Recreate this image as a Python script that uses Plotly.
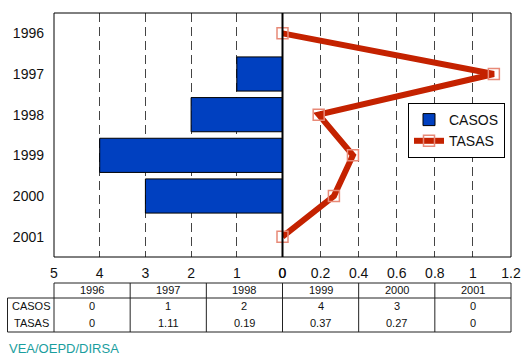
import plotly.graph_objects as go

years = ["1996", "1997", "1998", "1999", "2000", "2001"]
casos = [0, 1, 2, 4, 3, 0]
tasas = [0, 1.11, 0.19, 0.37, 0.27, 0]
casos_text = ["0", "1", "2", "4", "3", "0"]
tasas_text = ["0", "1.11", "0.19", "0.37", "0.27", "0"]
left_ticks = [5, 4, 3, 2, 1, 0]
right_ticks = [0, 0.2, 0.4, 0.6, 0.8, 1, 1.2]
right_tick_text = ["0", "0.2", "0.4", "0.6", "0.8", "1", "1.2"]

FONT = "Liberation Sans, Arial, sans-serif"
W, H = 521, 356
PL, PR, PT, PB = 54, 511, 13, 257  # plot area in page pixels
ML, MR, MT, MB = PL, W - PR, PT, H - PB
PW = PR - PL
PH = PB - PT


def px_y(py):
    return (PB - py) / PH


def px_x(px):
    return (px - PL) / PW


fig = go.Figure()
fig.add_trace(go.Bar(
    x=casos, y=years, orientation="h", name="CASOS",
    xaxis="x", yaxis="y", width=0.84,
    marker=dict(color="#0040c0", line=dict(color="#000000", width=1)),
))
fig.add_trace(go.Scatter(
    x=tasas, y=years, name="TASAS", mode="lines+markers",
    xaxis="x2", yaxis="y", cliponaxis=False,
    line=dict(color="#c42200", width=6),
    marker=dict(symbol="square-open", size=11, color="#e88a78",
                line=dict(width=1.5, color="#e88a78")),
))

grid = dict(showgrid=True, gridcolor="#444444", gridwidth=1, griddash="9px,5px",
            zeroline=False, showline=False, ticks="", ticklabelstandoff=6,
            automargin=False, ticklabeloverflow="allow",
            tickfont=dict(family=FONT, size=14, color="#111111"), fixedrange=True)

fig.update_layout(
    width=W, height=H,
    margin=dict(l=ML, r=MR, t=MT, b=MB, autoexpand=False),
    paper_bgcolor="white", plot_bgcolor="white",
    showlegend=True, bargap=0.16,
    font=dict(family=FONT, color="#111111"),
    xaxis=dict(domain=[0, 0.5], range=[5, 0], tickmode="array", tickvals=left_ticks,
               ticktext=[str(v) for v in left_ticks], anchor="y", **grid),
    xaxis2=dict(domain=[0.5, 1], range=[0, 1.2], tickmode="array", tickvals=right_ticks,
                ticktext=right_tick_text, anchor="y", **grid),
    yaxis=dict(categoryorder="array", categoryarray=years, autorange="reversed",
               showgrid=False, zeroline=False, showline=False, ticks="",
               ticklabelstandoff=9, automargin=False,
               tickfont=dict(family=FONT, size=14, color="#111111"), fixedrange=True),
    legend=dict(x=px_x(505), xanchor="right", y=px_y(103), yanchor="top",
                bgcolor="white", bordercolor="#000000", borderwidth=1,
                font=dict(family=FONT, size=14, color="#111111"),
                itemwidth=30, tracegroupgap=0),
)

shapes = []
# plot border
shapes.append(dict(type="rect", xref="paper", yref="paper", x0=0, x1=1, y0=0, y1=1,
                   line=dict(color="#000000", width=1), layer="above"))
# zero divider
shapes.append(dict(type="line", xref="paper", yref="paper", x0=0.5, x1=0.5, y0=0, y1=1,
                   line=dict(color="#000000", width=2), layer="above"))
# table
tline = dict(color="#222222", width=1)
y_top, y_hdr, y_bot = px_y(283), px_y(298), px_y(332)
x_left = px_x(7.5)
shapes.append(dict(type="line", xref="paper", yref="paper", x0=0, x1=1, y0=y_top, y1=y_top, line=tline))
shapes.append(dict(type="line", xref="paper", yref="paper", x0=x_left, x1=1, y0=y_hdr, y1=y_hdr, line=tline))
shapes.append(dict(type="line", xref="paper", yref="paper", x0=x_left, x1=1, y0=y_bot, y1=y_bot, line=tline))
shapes.append(dict(type="line", xref="paper", yref="paper", x0=x_left, x1=x_left, y0=y_hdr, y1=y_bot, line=tline))
for i in range(len(years) + 1):
    xv = i / len(years)
    shapes.append(dict(type="line", xref="paper", yref="paper", x0=xv, x1=xv, y0=y_top, y1=y_bot, line=tline))

annotations = []
tfont = dict(family=FONT, size=11, color="#111111")
n = len(years)


def cell(x, y, text):
    return dict(x=x, y=y, xref="paper", yref="paper", text=text, showarrow=False,
                xanchor="center", yanchor="middle", font=tfont)


for i in range(n):
    xc = (i + 0.5) / n
    annotations.append(cell(xc, px_y(290), years[i]))
    annotations.append(cell(xc, px_y(306), casos_text[i]))
    annotations.append(cell(xc, px_y(323), tasas_text[i]))
annotations.append(cell(px_x(31), px_y(306), "CASOS"))
annotations.append(cell(px_x(31), px_y(323), "TASAS"))
annotations.append(dict(x=px_x(7), y=px_y(348), xref="paper", yref="paper", xanchor="left",
                        yanchor="middle", text="VEA/OEPD/DIRSA", showarrow=False,
                        font=dict(family=FONT, size=13, color="#1a9e9e")))

fig.update_layout(shapes=shapes, annotations=annotations)
fig.write_html("out.html", config={"displayModeBar": False, "staticPlot": True},
               post_script="document.body.style.margin='0';document.body.style.overflow='hidden';")
